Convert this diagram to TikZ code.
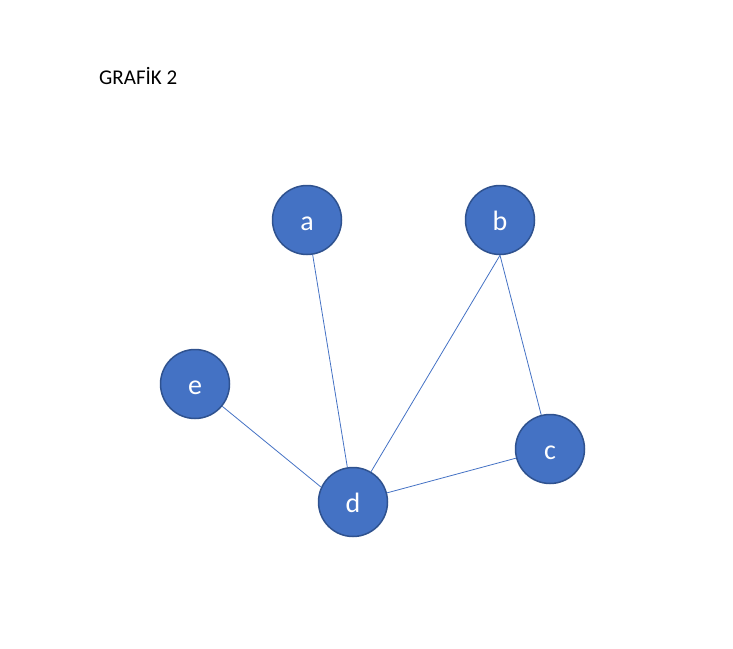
\documentclass[tikz,border=0pt]{standalone}
\usepackage{fontspec}
\setmainfont{Carlito}
\usetikzlibrary{positioning}
\definecolor{nodeblue}{HTML}{4472C4}
\definecolor{rimblue}{HTML}{2F528F}

\begin{document}
\begin{tikzpicture}[x=1pt, y=-1pt,
    vertex/.style={circle, fill=nodeblue, draw=rimblue, line width=1.5pt, minimum size=69pt, inner sep=0pt, text=white, text height=20pt, text depth=0pt, font=\fontsize{28}{32}\selectfont},
    edge/.style={draw=nodeblue, line width=0.8pt}]
  \useasboundingbox (0,0) rectangle (733,648);
  % Baslik
  \node[anchor=base west, inner sep=0pt, font=\fontsize{21}{25}\selectfont] (title) at (99,84) {GRAFİK 2};
  % Dugumler
  \node[vertex] (a) at (307,220) {a};
  \node[vertex] (b) at (500,220) {b};
  \node[vertex] (e) at (195,384) {e};
  \node[vertex] (d) at (353,502) {d};
  \node[vertex] (c) at (550,449) {c};
  % Kenarlar
  \draw[edge] (a) -- (d);
  \draw[edge] (b.south) -- (d);
  \draw[edge] (b.south) -- (c);
  \draw[edge] (e) -- (d.155);
  \draw[edge] (d) -- (c);
\end{tikzpicture}
\end{document}
